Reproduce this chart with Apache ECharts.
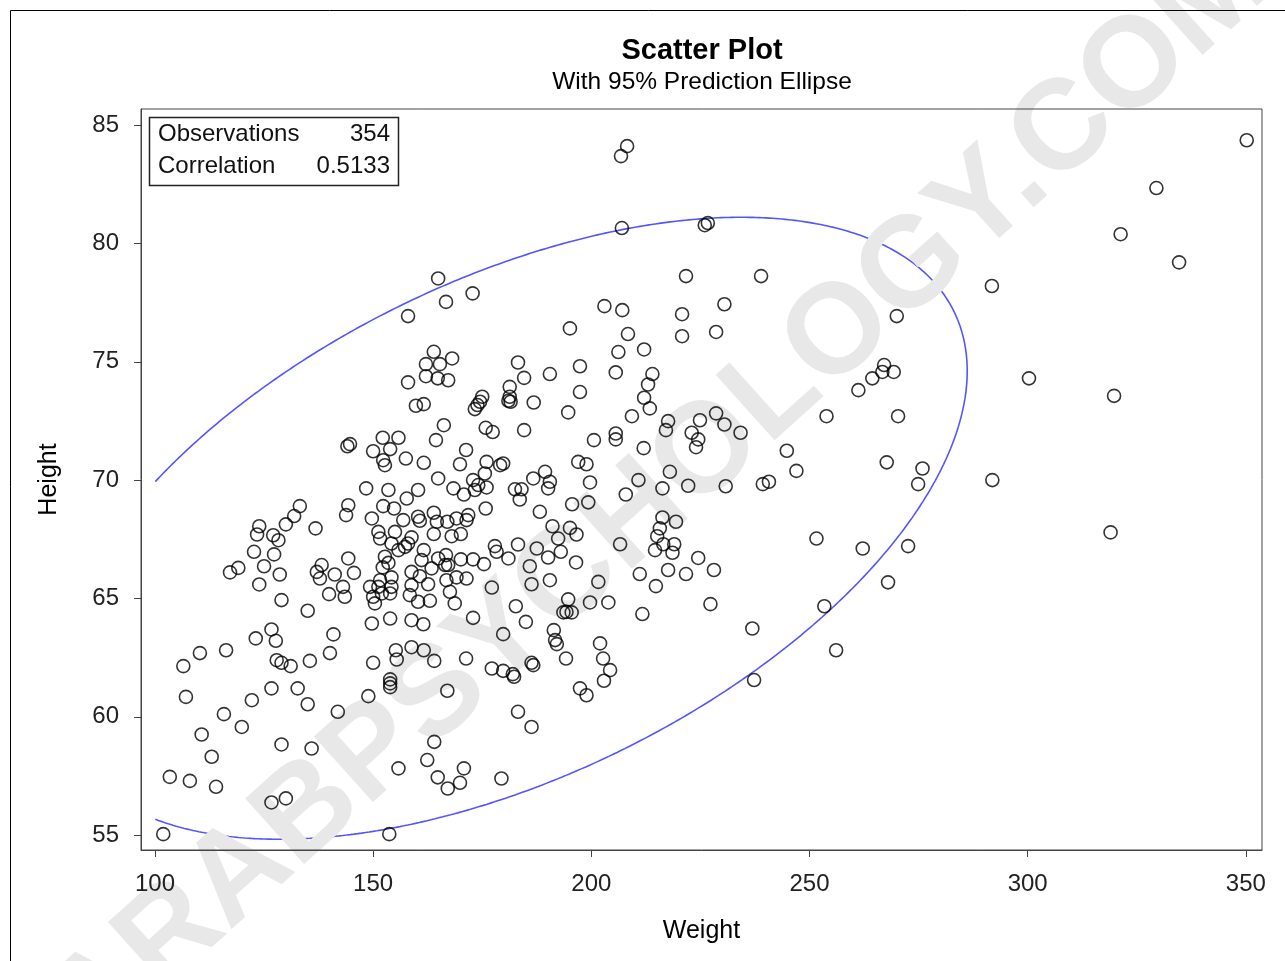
<!DOCTYPE html>
<html>
<head>
<meta charset="utf-8">
<title>Scatter Plot</title>
<script src="https://cdn.jsdelivr.net/npm/echarts@6.0.0/dist/echarts.min.js"></script>
<style>
  html, body { margin: 0; padding: 0; background: #fff; }
  #chart { width: 1285px; height: 961px; }
</style>
</head>
<body>
<div id="chart"></div>
<script>
// weight / height pairs
var weight = [
  350.2, 208.2, 206.8, 329.5, 207.0, 226.0, 226.7, 321.3, 334.7, 291.8,
  238.9, 300.3, 319.8, 319.0, 291.9, 164.9, 172.8, 166.7, 158.0, 163.9,
  168.1, 162.1, 165.3, 162.1, 164.8, 167.2, 158.0, 183.2, 184.6, 181.3,
  181.3, 181.0, 181.5, 186.8, 159.8, 161.6, 175.0, 174.5, 173.9, 173.3,
  166.2, 175.8, 177.4, 184.6, 164.4, 152.2, 155.8, 171.3, 153.9, 144.1,
  150.0, 144.7,
  221.7, 230.5, 203.0, 207.1, 220.8, 195.1, 208.4, 220.8, 228.6, 212.1,
  206.2, 197.4, 190.5, 205.6, 214.0, 213.0, 197.4, 212.1, 213.4, 194.7,
  209.3, 217.6, 217.1, 224.9, 228.6, 230.5, 234.2, 200.6, 205.6, 205.6,
  212.0, 223.0, 224.5, 224.0,
  270.0, 267.1, 266.7, 264.4, 269.3, 261.2, 253.9, 270.3,
  244.8, 247.0, 267.7, 275.9, 274.9, 239.3, 240.7, 251.6, 262.2, 272.6,
  268.0, 253.4, 236.9, 256.1, 237.3, 230.8, 228.1,
  197.0, 198.9, 189.4, 190.5, 190.1, 199.7, 210.8, 218.0, 207.9, 216.3,
  222.2, 195.6, 199.3, 188.2, 216.3, 219.4, 215.7, 215.1, 216.5, 219.0,
  214.6, 218.6, 191.1, 195.1, 196.6, 192.4, 193.0, 190.1, 187.5, 206.6,
  196.5, 224.5, 217.6, 221.7, 211.1, 214.8, 190.5, 201.6, 194.7, 194.3,
  195.5, 193.6, 199.7, 203.9, 227.3, 211.7, 191.4, 191.7, 192.1, 202.0,
  194.2, 202.7, 204.3, 202.9, 197.4, 198.9,
  150.0, 155.2, 155.4, 158.8, 161.6, 164.0, 171.3, 177.2, 179.8, 182.0,
  182.3, 186.3, 186.7, 153.9, 153.9, 153.9, 148.9, 141.9, 167.0, 183.2,
  186.3, 164.0, 162.4, 155.8, 170.8, 164.8, 167.1, 169.9, 179.4, 153.7,
  110.3, 116.3, 106.5, 127.9, 129.0, 131.1, 135.5, 140.1, 107.1, 126.7,
  132.7, 122.2, 135.0, 115.8, 119.9, 110.7, 129.0, 135.9, 113.0, 103.4,
  108.0, 114.0, 126.7, 130.0, 101.9,
  133.2, 131.9, 130.0, 123.9, 123.4, 127.1, 128.3, 136.8, 122.7, 127.3,
  125.0, 117.2, 119.1, 128.6, 123.9, 138.2, 137.1, 137.8, 141.2, 139.9,
  129.0, 135.0, 140.9, 126.7, 127.7, 123.1,
  152.3, 152.7, 157.5, 161.6, 169.9, 176.0, 179.1, 179.8, 164.9, 175.6,
  172.9, 174.1, 176.0, 173.3, 168.4, 170.8, 186.7, 182.5, 184.0, 183.6,
  148.4, 153.5, 160.3, 157.7, 152.3, 154.8, 144.3, 143.8, 149.7, 156.9,
  160.3, 160.7, 163.9, 164.6, 167.0, 169.1, 171.8, 171.4, 175.8,
  151.2, 151.6, 155.0, 158.8, 158.0, 157.3, 163.9, 168.0, 170.1, 154.2,
  155.8, 152.7, 153.5, 152.2, 161.6, 161.1, 164.9, 166.7, 166.5, 167.2,
  170.1, 172.9, 175.4, 177.9, 178.3, 181.0, 183.2,
  144.3, 145.6, 163.4, 158.8, 160.7, 154.2, 151.6, 149.3, 151.2, 152.0,
  150.0, 150.4, 153.9, 154.2, 143.1, 143.5, 158.8, 158.4, 160.3, 163.0,
  162.6, 166.8, 169.1, 171.4, 167.6, 168.7, 177.2, 185.9, 186.3, 182.7,
  149.7, 153.9, 158.8, 161.5, 172.9, 179.8, 185.0
];
var height = [
  84.36, 84.11, 83.69, 82.34, 80.65, 80.77, 80.86, 80.39, 79.20, 78.20,
  78.62, 74.30, 73.56, 67.79, 70.00, 78.52, 77.89, 77.53, 76.93, 75.42,
  75.14, 74.90, 74.90, 74.39, 74.30, 74.22, 74.13, 74.97, 74.32, 73.94,
  73.52, 73.35, 73.31, 73.28, 73.14, 73.21, 73.52, 73.31, 73.17, 73.00,
  72.32, 72.21, 72.03, 72.11, 71.69, 71.79, 71.79, 71.27, 71.31, 71.43,
  71.22, 71.52,
  78.62, 77.43, 77.35, 77.18, 77.01, 76.41, 76.17, 76.08, 76.26, 75.52,
  75.41, 74.81, 74.48, 74.55, 74.48, 74.04, 73.72, 73.48, 73.03, 72.86,
  72.70, 72.49, 72.11, 72.53, 72.82, 72.35, 72.00, 71.69, 71.97, 71.72,
  71.35, 72.00, 71.72, 71.39,
  76.93, 74.86, 74.57, 74.30, 74.57, 73.80, 72.70, 72.70,
  71.24, 70.39, 70.75, 70.49, 69.83, 69.83, 69.93, 67.53, 67.11, 67.21,
  65.68, 64.67, 63.73, 62.81, 61.55, 69.74, 66.20,
  70.77, 70.67, 70.35, 69.93, 69.65, 69.90, 70.00, 70.35, 69.39, 69.65,
  69.76, 68.98, 69.06, 68.66, 68.42, 68.24, 67.96, 67.63, 67.29, 67.29,
  67.04, 66.93, 68.05, 67.98, 67.70, 67.53, 66.97, 66.73, 67.11, 67.29,
  66.52, 66.71, 66.20, 66.03, 66.03, 65.52, 65.77, 65.70, 64.96, 64.43,
  64.41, 64.41, 64.83, 64.83, 64.76, 64.34, 63.66, 63.24, 63.07, 63.10,
  62.46, 62.46, 61.97, 61.52, 61.20, 60.91,
  62.28, 62.81, 62.42, 62.94, 62.81, 62.36, 62.46, 62.04, 61.94, 61.80,
  61.69, 62.28, 62.18, 61.58, 61.41, 61.25, 60.87, 60.21, 61.10, 60.21,
  59.57, 58.94, 58.17, 57.82, 57.82, 57.44, 56.97, 57.21, 57.39, 55.04,
  62.69, 62.81, 62.14, 62.39, 62.28, 62.14, 62.36, 62.69, 60.84, 61.20,
  61.20, 60.70, 60.53, 60.11, 59.57, 59.25, 58.83, 58.66, 58.31, 57.46,
  57.29, 57.04, 56.38, 56.55, 55.04,
  68.90, 68.48, 68.13, 68.05, 67.70, 67.67, 67.46, 67.96, 66.97, 66.86,
  66.36, 66.10, 66.29, 66.01, 65.59, 66.41, 66.12, 65.84, 66.01, 65.18,
  64.93, 64.48, 63.48, 63.69, 63.21, 63.31,
  70.84, 70.63, 70.91, 70.73, 70.67, 70.77, 70.63, 70.70, 70.07, 70.28,
  70.00, 69.79, 69.69, 69.58, 69.65, 69.39, 70.07, 69.61, 69.61, 69.18,
  69.65, 69.58, 69.58, 69.22, 68.90, 68.80, 68.94, 68.52, 68.38, 68.31,
  68.45, 68.28, 68.62, 68.24, 68.24, 68.38, 68.52, 68.31, 68.80,
  67.81, 67.53, 67.81, 67.58, 67.32, 67.18, 67.72, 67.63, 67.72, 67.32,
  67.04, 66.76, 66.50, 66.31, 67.04, 66.62, 66.69, 66.83, 66.41, 66.41,
  66.65, 66.65, 66.45, 67.21, 66.97, 66.69, 67.28,
  66.69, 66.08, 66.27, 66.12, 65.94, 65.89, 65.77, 65.49, 65.49, 65.21,
  65.07, 64.79, 65.21, 65.49, 65.49, 65.07, 65.56, 65.14, 64.86, 64.90,
  65.60, 65.77, 65.89, 65.84, 65.28, 64.79, 65.46, 66.36, 65.60, 64.67,
  63.94, 64.15, 64.08, 63.91, 64.18, 63.49, 64.01
];
var xTicks = [100, 150, 200, 250, 300, 350];
var yTicks = [55, 60, 65, 70, 75, 80, 85];
var statRows = [['Observations', '354'], ['Correlation', '0.5133']];

var font = '"Liberation Sans", Arial, sans-serif';

// 95% prediction ellipse from the sample mean and covariance,
// walked from the leftmost point so the part left of xMin can be cut off
function predictionEllipse(xs, ys, level, xMin) {
  var n = xs.length, mx = 0, my = 0, i;
  for (i = 0; i < n; i++) { mx += xs[i]; my += ys[i]; }
  mx /= n; my /= n;
  var sxx = 0, syy = 0, sxy = 0;
  for (i = 0; i < n; i++) {
    var dx = xs[i] - mx, dy = ys[i] - my;
    sxx += dx * dx; syy += dy * dy; sxy += dx * dy;
  }
  sxx /= n - 1; syy /= n - 1; sxy /= n - 1;
  var df2 = n - 2;
  // F(2, n-2) quantile has a closed form
  var fq = df2 / 2 * (Math.pow(1 - level, -2 / df2) - 1);
  var r = Math.sqrt(2 * (n - 1) * (n + 1) / (n * df2) * fq);
  var l11 = Math.sqrt(sxx), l21 = sxy / l11, l22 = Math.sqrt(syy - l21 * l21);
  var pts = [];
  for (var k = 0; k <= 720; k++) {
    var t = Math.PI + 2 * Math.PI * k / 720, u = Math.cos(t), v = Math.sin(t);
    var px = mx + r * l11 * u;
    if (px < xMin) continue;
    pts.push([px, my + r * (l21 * u + l22 * v)]);
  }
  return pts;
}

var points = weight.map(function (w, i) { return [w, height[i]]; });
var ellipse = predictionEllipse(weight, height, 0.95, xTicks[0]);

var dom = document.getElementById('chart');
var myChart = echarts.init(dom);
var option;

option = {
  animation: false,
  backgroundColor: '#fff',
  title: [
    {
      text: 'Scatter Plot',
      left: 697, top: 31, textAlign: 'center',
      textStyle: { fontFamily: font, fontSize: 29, fontWeight: 'bold', color: '#000' }
    },
    {
      text: 'With 95% Prediction Ellipse',
      left: 697, top: 65, textAlign: 'center',
      textStyle: { fontFamily: font, fontSize: 24.5, fontWeight: 'normal', color: '#000' }
    }
  ],
  grid: {
    left: 141, top: 109, right: 23, bottom: 111,
    show: true, borderColor: '#444', borderWidth: 1
  },
  xAxis: {
    type: 'value',
    min: 96.8, max: 353.7,
    name: 'Weight', nameLocation: 'middle', nameGap: 69,
    nameTextStyle: { fontFamily: font, fontSize: 25, color: '#000' },
    axisLine: { show: true, lineStyle: { color: '#444' } },
    axisTick: { show: true, length: 7, customValues: xTicks, lineStyle: { color: '#444' } },
    axisLabel: { customValues: xTicks, margin: 22, fontFamily: font, fontSize: 24, color: '#222' },
    splitLine: { show: false }
  },
  yAxis: {
    type: 'value',
    min: 54.37, max: 85.68,
    name: 'Height', nameLocation: 'middle', nameGap: 79,
    nameTextStyle: { fontFamily: font, fontSize: 25, color: '#000' },
    axisLine: { show: true, lineStyle: { color: '#444' } },
    axisTick: { show: true, length: 7, customValues: yTicks, lineStyle: { color: '#444' } },
    axisLabel: { customValues: yTicks, margin: 22, fontFamily: font, fontSize: 24, color: '#222' },
    splitLine: { show: false }
  },
  graphic: [
    {
      type: 'text', x: 660, y: 496, rotation: 42 * Math.PI / 180, z: -1,
      style: {
        text: 'ARABPSYCHOLOGY.COM', align: 'center', verticalAlign: 'middle',
        font: 'bold 128px ' + font, fill: '#e8e8e8'
      }
    },
    {
      type: 'rect', z: 10,
      shape: { x: 149.5, y: 117.5, width: 249, height: 68 },
      style: { fill: '#fff', stroke: '#222', lineWidth: 1.5 }
    },
    {
      type: 'text', x: 158, y: 134, z: 11,
      style: { text: statRows[0][0], font: '24px ' + font, fill: '#111', verticalAlign: 'middle' }
    },
    {
      type: 'text', x: 390, y: 134, z: 11,
      style: { text: statRows[0][1], font: '24px ' + font, fill: '#111', align: 'right', verticalAlign: 'middle' }
    },
    {
      type: 'text', x: 158, y: 166, z: 11,
      style: { text: statRows[1][0], font: '24px ' + font, fill: '#111', verticalAlign: 'middle' }
    },
    {
      type: 'text', x: 390, y: 166, z: 11,
      style: { text: statRows[1][1], font: '24px ' + font, fill: '#111', align: 'right', verticalAlign: 'middle' }
    },
    {
      type: 'rect', z: 0,
      shape: { x: 10.5, y: 10.5, width: 1300, height: 1000 },
      style: { fill: 'none', stroke: '#000', lineWidth: 1 }
    }
  ],
  series: [
    {
      name: 'Ellipse',
      type: 'line',
      z: -2,
      data: ellipse,
      showSymbol: false,
      clip: true,
      lineStyle: { color: '#5555ff', width: 1.6 }
    },
    {
      name: 'Height',
      type: 'scatter',
      z: 5,
      data: points,
      symbol: 'circle',
      symbolSize: 13,
      itemStyle: { color: 'rgba(0,0,0,0)', borderColor: '#000', borderWidth: 1.6 }
    }
  ]
};

if (option && typeof option === 'object') {
    myChart.setOption(option);
}
</script>
</body>
</html>
